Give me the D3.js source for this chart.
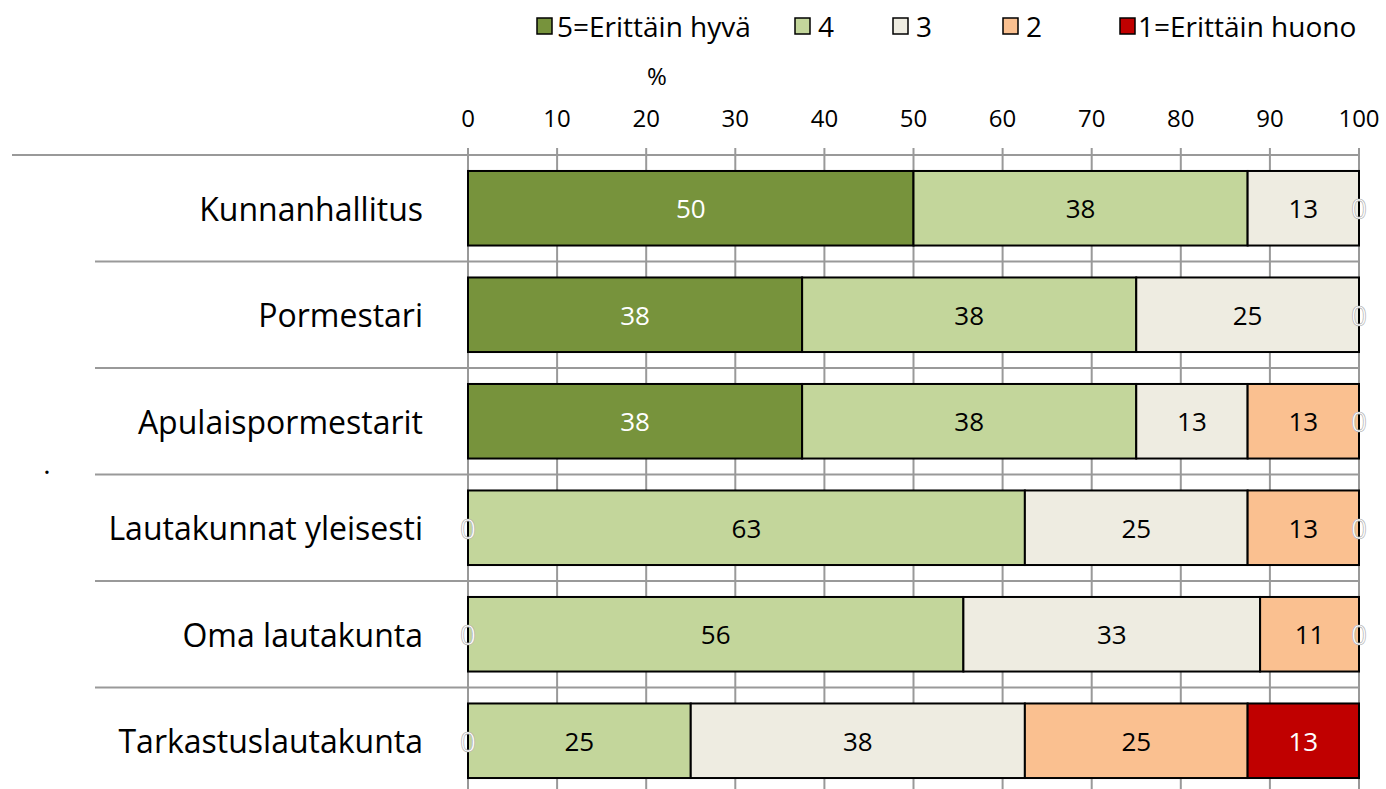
<!DOCTYPE html>
<html>
<head>
<meta charset="utf-8">
<script src="https://cdn.jsdelivr.net/npm/d3@7"></script>
<style>
  body { margin: 0; background: #fff; }
  svg { font-family: "Open Sans", "Noto Sans", sans-serif; }
</style>
</head>
<body>
<svg id="chart" width="1386" height="789"></svg>
<script>
const categories = [
  "Kunnanhallitus",
  "Pormestari",
  "Apulaispormestarit",
  "Lautakunnat yleisesti",
  "Oma lautakunta",
  "Tarkastuslautakunta"
];
const seriesNames = ["5=Erittäin hyvä", "4", "3", "2", "1=Erittäin huono"];
const seriesColors = ["#77933c", "#c3d69b", "#eeece1", "#fac090", "#c00000"];
const labelColors = ["#fff", "#000", "#000", "#000", "#fff"];

// percentages per category, one array per series
const s5 = [50, 37.5, 37.5, 0, 0, 0];
const s4 = [37.5, 37.5, 37.5, 62.5, 55.6, 25];
const s3 = [12.5, 25, 12.5, 25, 33.3, 37.5];
const s2 = [0, 0, 12.5, 12.5, 11.1, 25];
const s1 = [0, 0, 0, 0, 0, 12.5];
const ticks = [0, 10, 20, 30, 40, 50, 60, 70, 80, 90, 100];

const seriesValues = [s5, s4, s3, s2, s1];

const svg = d3.select("#chart");
const axisY = 155;

const x = d3.scaleLinear().domain([0, 100]).range([468, 1359]);
const y = d3.scaleBand().domain(categories).range([axisY, axisY + 6 * 106.5])
  .paddingInner(0.3).paddingOuter(0.15);

const rows = categories.map((c, i) => {
  let acc = 0;
  return seriesValues.map((vals, k) => {
    const v = vals[i];
    const seg = { cat: c, k, v, x0: acc, x1: acc + v };
    acc += v;
    return seg;
  });
});

// gridlines
svg.append("g").selectAll("line").data(ticks).join("line")
  .attr("x1", d => x(d)).attr("x2", d => x(d))
  .attr("y1", axisY - 7).attr("y2", 789)
  .attr("stroke", "#999").attr("stroke-width", 2);

// row separators
svg.append("g").selectAll("line").data(categories.slice(1)).join("line")
  .attr("x1", 95).attr("x2", x(100))
  .attr("y1", d => y(d) - y.step() * 0.15).attr("y2", d => y(d) - y.step() * 0.15)
  .attr("stroke", "#999").attr("stroke-width", 2);

svg.append("line")
  .attr("x1", 12).attr("x2", x(100))
  .attr("y1", axisY).attr("y2", axisY)
  .attr("stroke", "#999").attr("stroke-width", 2);

// tick labels
svg.append("g").selectAll("text").data(ticks).join("text")
  .attr("x", d => x(d)).attr("y", 117)
  .attr("text-anchor", "middle").attr("dominant-baseline", "central")
  .attr("font-size", 24).attr("fill", "#000")
  .text(d => d);

svg.append("text").attr("x", 657).attr("y", 75)
  .attr("text-anchor", "middle").attr("dominant-baseline", "central")
  .attr("font-size", 24).text("%");

// bars
const rowG = svg.append("g").selectAll("g").data(rows).join("g")
  .attr("transform", (d, i) => `translate(0,${y(categories[i])})`);

rowG.selectAll("rect").data(d => d.filter(s => s.v > 0)).join("rect")
  .attr("x", d => x(d.x0)).attr("width", d => x(d.x1) - x(d.x0))
  .attr("y", 0).attr("height", y.bandwidth())
  .attr("fill", d => seriesColors[d.k])
  .attr("stroke", "#000").attr("stroke-width", 2);

// value labels (zero labels only for first and last series, as in the original)
rowG.selectAll("text").data(d => d.filter(s => s.v > 0 || s.k === 0 || s.k === 4)).join("text")
  .attr("x", d => x((d.x0 + d.x1) / 2))
  .attr("y", y.bandwidth() / 2)
  .attr("text-anchor", "middle").attr("dominant-baseline", "central")
  .attr("font-size", d => d.v === 0 ? 28 : 26)
  .attr("fill", d => labelColors[d.k])
  .attr("stroke", d => d.v === 0 ? "#aaa" : "none")
  .attr("stroke-width", 0.6)
  .text(d => Math.round(d.v));

// category labels
svg.append("g").selectAll("text").data(categories).join("text")
  .attr("x", 423).attr("y", d => y(d) + y.bandwidth() / 2)
  .attr("text-anchor", "end").attr("dominant-baseline", "central")
  .attr("font-size", 32).attr("fill", "#000")
  .text(d => d);

svg.append("text").attr("x", 47).attr("y", 474)
  .attr("text-anchor", "middle").attr("font-size", 28).text(".");

// legend
const legendX = [537, 795, 893, 1003, 1120];
const leg = svg.append("g").selectAll("g").data(seriesNames).join("g")
  .attr("transform", (d, i) => `translate(${legendX[i]},26)`);
leg.append("rect").attr("x", 0).attr("y", -8).attr("width", 15).attr("height", 16)
  .attr("fill", (d, i) => seriesColors[i]).attr("stroke", "#000").attr("stroke-width", 1.5);
leg.append("text").attr("x", (d, i) => i === 4 ? 18 : (i === 0 ? 20 : 23))
  .attr("y", 0).attr("dominant-baseline", "central")
  .attr("font-size", 28).text(d => d);
</script>
</body>
</html>
